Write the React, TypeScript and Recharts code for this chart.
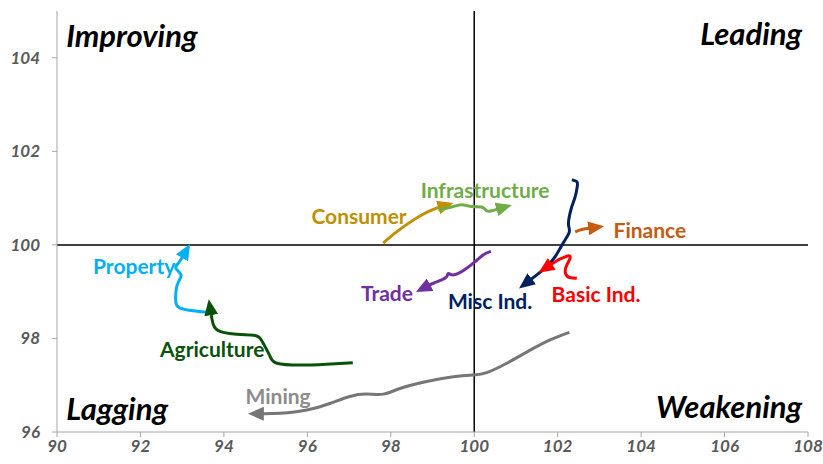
import { LineChart, Line, XAxis, YAxis, ReferenceLine, ReferenceDot } from 'recharts'

type Pt = { x: number; y: number }

// trails, oldest point first, arrow at the last point
const property: Pt[] = [
  { x: 93.59, y: 98.56 }, { x: 93.27, y: 98.59 }, { x: 92.95, y: 98.65 }, { x: 92.85, y: 98.76 },
  { x: 92.85, y: 99.0 }, { x: 92.91, y: 99.21 }, { x: 92.97, y: 99.36 }, { x: 92.85, y: 99.5 },
  { x: 92.91, y: 99.61 }, { x: 93.02, y: 99.76 },
]
const agriculture: Pt[] = [
  { x: 97.09, y: 97.48 }, { x: 96.46, y: 97.45 }, { x: 95.82, y: 97.43 }, { x: 95.27, y: 97.47 },
  { x: 95.11, y: 97.61 }, { x: 94.99, y: 97.82 }, { x: 94.87, y: 98.0 }, { x: 94.71, y: 98.07 },
  { x: 94.31, y: 98.09 }, { x: 93.91, y: 98.15 }, { x: 93.75, y: 98.29 }, { x: 93.69, y: 98.54 },
]
const mining: Pt[] = [
  { x: 102.28, y: 98.13 }, { x: 101.82, y: 97.97 }, { x: 101.34, y: 97.75 }, { x: 100.78, y: 97.47 },
  { x: 100.3, y: 97.27 }, { x: 99.98, y: 97.22 }, { x: 99.5, y: 97.18 }, { x: 98.86, y: 97.08 },
  { x: 98.22, y: 96.93 }, { x: 97.82, y: 96.81 }, { x: 97.42, y: 96.81 }, { x: 97.02, y: 96.76 },
  { x: 96.54, y: 96.61 }, { x: 95.99, y: 96.47 }, { x: 95.35, y: 96.4 }, { x: 94.91, y: 96.39 },
]
const consumer: Pt[] = [
  { x: 97.82, y: 100.04 }, { x: 98.1, y: 100.25 }, { x: 98.42, y: 100.46 }, { x: 98.74, y: 100.64 },
  { x: 99.02, y: 100.76 }, { x: 99.18, y: 100.81 },
]
const infrastructure: Pt[] = [
  { x: 99.14, y: 100.75 }, { x: 99.46, y: 100.81 }, { x: 99.7, y: 100.86 }, { x: 99.94, y: 100.82 },
  { x: 100.18, y: 100.81 }, { x: 100.3, y: 100.73 }, { x: 100.42, y: 100.73 }, { x: 100.58, y: 100.77 },
]
const miscInd: Pt[] = [
  { x: 102.34, y: 101.39 }, { x: 102.46, y: 101.35 }, { x: 102.47, y: 101.25 }, { x: 102.42, y: 101.03 },
  { x: 102.34, y: 100.82 }, { x: 102.28, y: 100.61 }, { x: 102.26, y: 100.43 }, { x: 102.28, y: 100.28 },
  { x: 102.18, y: 100.11 }, { x: 102.06, y: 99.93 }, { x: 101.94, y: 99.75 }, { x: 101.74, y: 99.54 },
  { x: 101.5, y: 99.36 }, { x: 101.34, y: 99.25 },
]
const basicInd: Pt[] = [
  { x: 102.46, y: 99.29 }, { x: 102.26, y: 99.31 }, { x: 102.18, y: 99.43 }, { x: 102.22, y: 99.57 },
  { x: 102.3, y: 99.72 }, { x: 102.26, y: 99.77 }, { x: 102.14, y: 99.73 }, { x: 101.98, y: 99.66 },
  { x: 101.82, y: 99.57 },
]
const finance: Pt[] = [
  { x: 102.42, y: 100.28 }, { x: 102.58, y: 100.33 }, { x: 102.78, y: 100.36 },
]
const trade: Pt[] = [
  { x: 100.4, y: 99.86 }, { x: 100.22, y: 99.79 }, { x: 100.02, y: 99.64 }, { x: 99.82, y: 99.5 },
  { x: 99.62, y: 99.39 }, { x: 99.46, y: 99.36 }, { x: 99.38, y: 99.39 }, { x: 99.34, y: 99.32 },
  { x: 99.22, y: 99.25 }, { x: 99.02, y: 99.18 }, { x: 98.9, y: 99.13 },
]

const xTicks = [90, 92, 94, 96, 98, 100, 102, 104, 106, 108]
const yTicks = [96, 98, 100, 102, 104]

const series = [
  { id: 'property', name: 'Property', color: '#00B0F0', data: property, lx: 91.85, ly: 99.57 },
  { id: 'agri', name: 'Agriculture', color: '#0A520A', data: agriculture, lx: 93.72, ly: 97.78 },
  { id: 'mining', name: 'Mining', color: '#767676', data: mining, lx: 95.3, ly: 96.77 },
  { id: 'consumer', name: 'Consumer', color: '#BF9000', data: consumer, lx: 97.24, ly: 100.62 },
  { id: 'infra', name: 'Infrastructure', color: '#70AD47', data: infrastructure, lx: 100.26, ly: 101.18 },
  { id: 'misc', name: 'Misc Ind.', color: '#002060', data: miscInd, lx: 100.38, ly: 98.82 },
  { id: 'basic', name: 'Basic Ind.', color: '#FF0000', data: basicInd, lx: 102.92, ly: 98.97 },
  { id: 'finance', name: 'Finance', color: '#C55A11', data: finance, lx: 104.21, ly: 100.32 },
  { id: 'trade', name: 'Trade', color: '#7030A0', data: trade, lx: 97.91, ly: 98.99 },
]

const labelColors: Record<string, string> = { mining: '#8C8C8C' }

const quadrants = [
  { text: 'Improving', x: 90.22, y: 104.49, anchor: 'start' },
  { text: 'Leading', x: 107.86, y: 104.53, anchor: 'end' },
  { text: 'Lagging', x: 90.22, y: 96.51, anchor: 'start' },
  { text: 'Weakening', x: 107.86, y: 96.56, anchor: 'end' },
]

const FONT = 'Lato, "Open Sans", sans-serif'

const textLabel = (text: string, color: string, size: number, anchor: string, italic: boolean) =>
  (props: any) => {
    const vb = props.viewBox || {}
    const cx = (vb.x ?? 0) + (vb.width ?? 0) / 2
    const cy = (vb.y ?? 0) + (vb.height ?? 0) / 2
    return (
      <text x={cx} y={cy} fill={color} fontSize={size} fontWeight={700}
        fontStyle={italic ? 'italic' : 'normal'} fontFamily={FONT}
        textAnchor={anchor as any} dominantBaseline="central">
        {text}
      </text>
    )
  }

const tickStyle = { fill: '#595959', fontSize: 17, fontWeight: 700, fontStyle: 'italic', fontFamily: FONT }

export default function App() {
  return (
    <div style={{ position: 'absolute', left: 0, top: 0 }}>
      <LineChart width={823} height={464} margin={{ top: 11, right: 15, bottom: 0, left: 0 }}>
        <defs>
          {series.map((s) => (
            <marker key={s.id} id={`arr-${s.id}`} viewBox="0 0 16 14" refX={2} refY={7}
              markerWidth={16} markerHeight={14} markerUnits="userSpaceOnUse" orient="auto">
              <path d="M0,0 L16,7 L0,14 z" fill={s.color} />
            </marker>
          ))}
        </defs>
        <XAxis type="number" dataKey="x" domain={[90, 108]} ticks={xTicks} allowDataOverflow
          height={32} stroke="#A6A6A6" tickSize={5} tickMargin={3} tick={tickStyle} />
        <YAxis type="number" dataKey="y" domain={[96, 105]} ticks={yTicks} allowDataOverflow
          width={57} stroke="#A6A6A6" tickSize={5} tickMargin={12} tick={tickStyle} />
        <ReferenceLine x={100} stroke="#000" strokeWidth={1.5} />
        <ReferenceLine y={100} stroke="#000" strokeWidth={1.5} />
        {series.map((s) => (
          <Line key={s.id} data={s.data} dataKey="y" type="natural" stroke={s.color} strokeWidth={3}
            dot={false} activeDot={false} isAnimationActive={false} markerEnd={`url(#arr-${s.id})`} />
        ))}
        {series.map((s) => (
          <ReferenceDot key={`l-${s.id}`} x={s.lx} y={s.ly} r={1} fillOpacity={0} strokeOpacity={0}
            label={textLabel(s.name, labelColors[s.id] || s.color, 21, 'middle', false)} />
        ))}
        {quadrants.map((q) => (
          <ReferenceDot key={q.text} x={q.x} y={q.y} r={1} fillOpacity={0} strokeOpacity={0}
            label={textLabel(q.text, '#000', 31, q.anchor, true)} />
        ))}
      </LineChart>
    </div>
  )
}
